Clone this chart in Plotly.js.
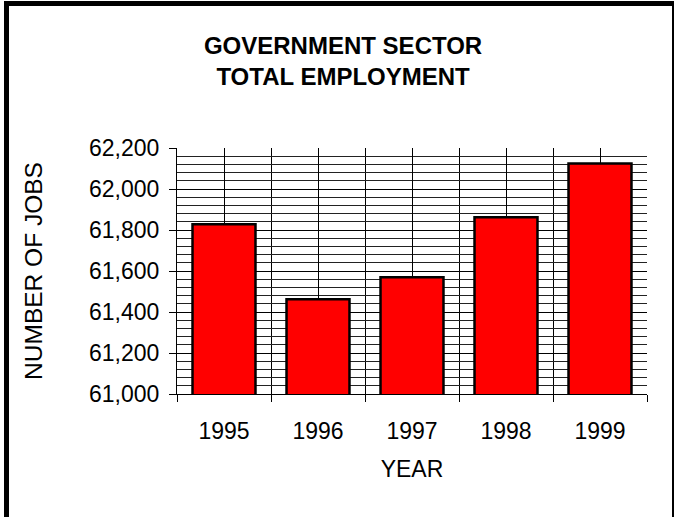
<!DOCTYPE html>
<html>
<head>
<meta charset="utf-8">
<script src="https://cdn.plot.ly/plotly-3.0.1.min.js"></script>
<style>
  html, body { margin: 0; padding: 0; background: #fff; }
  #frame { position: absolute; left: 4px; top: 1px; width: 663px; height: 520px;
           border-left: 5px solid #000; border-top: 5px solid #000; border-right: 3px solid #000; }
  #chart { position: absolute; left: 0; top: 0; width: 674px; height: 517px; }
</style>
</head>
<body>
<div id="frame"></div>
<div id="chart"></div>
<script>
const years = [1995, 1996, 1997, 1998, 1999];
const jobs = [61828, 61462, 61569, 61862, 62125];
const yTicks = [61000, 61200, 61400, 61600, 61800, 62000, 62200];
const yTickText = ['61,000', '61,200', '61,400', '61,600', '61,800', '62,000', '62,200'];
const titleText = 'GOVERNMENT SECTOR<br>TOTAL EMPLOYMENT';
const xTitle = 'YEAR';
const yTitle = 'NUMBER OF JOBS';

const boundaries = years.map(y => y - 0.5).concat([years[years.length - 1] + 0.5]);
const font = 'Liberation Sans, Arial, sans-serif';

Plotly.newPlot('chart', [{
  type: 'bar',
  x: years,
  y: jobs,
  marker: { color: '#ff0000', line: { color: '#000', width: 2.5 } },
  hoverinfo: 'skip'
}], {
  width: 674, height: 517,
  margin: { l: 177, r: 27, t: 148, b: 123 },
  paper_bgcolor: 'rgba(0,0,0,0)',
  plot_bgcolor: '#fff',
  bargap: 0.33,
  showlegend: false,
  title: {
    text: titleText,
    font: { family: font, size: 24, color: '#000', weight: 'bold' },
    x: 0.509, xanchor: 'center', y: 0.895, yanchor: 'top'
  },
  xaxis: {
    type: 'linear',
    range: [boundaries[0], boundaries[boundaries.length - 1]],
    tickmode: 'array', tickvals: years, ticktext: years.map(String),
    ticks: '', showgrid: true, gridcolor: '#000', gridwidth: 1,
    minor: { tickmode: 'array', tickvals: boundaries, ticks: 'outside', ticklen: 7,
             tickcolor: '#000', tickwidth: 1, showgrid: true, gridcolor: '#000', gridwidth: 1 },
    showline: true, linecolor: '#000', linewidth: 1,
    zeroline: false,
    tickfont: { family: font, size: 23, color: '#000' },
    ticklabelstandoff: 16,
    title: { text: xTitle, font: { family: font, size: 23, color: '#000' }, standoff: 18 },
    automargin: false, fixedrange: true
  },
  yaxis: {
    range: [yTicks[0], yTicks[yTicks.length - 1]],
    tickmode: 'array', tickvals: yTicks, ticktext: yTickText,
    ticks: 'outside', ticklen: 7, tickcolor: '#000', tickwidth: 1,
    showgrid: true, gridcolor: '#000', gridwidth: 1,
    minor: { dtick: 40, tick0: 61000, showgrid: true, gridcolor: '#222', gridwidth: 1, ticks: '' },
    showline: true, linecolor: '#000', linewidth: 1,
    zeroline: false,
    tickfont: { family: font, size: 23, color: '#000' },
    ticklabelstandoff: 5,
    title: { text: yTitle, font: { family: font, size: 24.5, color: '#000' }, standoff: 39 },
    automargin: false, fixedrange: true
  }
}, { displayModeBar: false, staticPlot: true });
</script>
</body>
</html>
